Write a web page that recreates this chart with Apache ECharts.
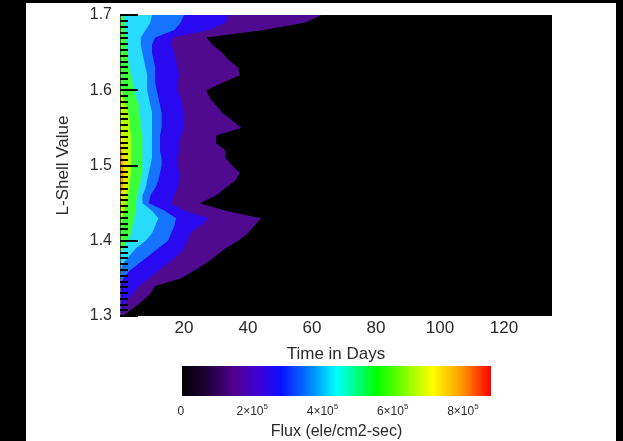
<!DOCTYPE html>
<html><head><meta charset="utf-8">
<script src="https://cdn.jsdelivr.net/npm/echarts@6/dist/echarts.min.js"></script>
<style>html,body{margin:0;padding:0;background:#fff}#c{width:623px;height:441px}</style>
</head><body><div id="c"></div>
<script>
// L-shell sample values (rows of the contour map)
const lShell = [1.30,1.31,1.32,1.33,1.34,1.35,1.36,1.37,1.38,1.39,1.40,1.41,1.42,1.43,1.44,1.45,1.46,1.47,1.48,1.49,1.50,
                1.51,1.52,1.53,1.54,1.55,1.56,1.57,1.58,1.59,1.60,1.61,1.62,1.63,1.64,1.65,1.66,1.67,1.68,1.69,1.70];
// right edge (days) of each filled contour level at every L-shell row
const purpleEdge = [1,4,7,9.5,11,19,23,27,30,33,37,40,42,44,33,25,30,33,36,37.5,35,33,33,30,30,38,35,32,30,28,27,32,37.5,37,34,32,29,27,45,58,63];
const blueEdge   = [0,1,2,4,6,9,12,15,18,20,21,22,25,28,20,16,17,18,18.5,18.5,18,18,18.5,18.5,19,20,20,20,19.5,19,18,18,18.5,18,17.5,17,16,16.5,28,33,34];
const lightBlueEdge = [0,0,0,0,0,1,3,6,9,12,15,16,17,17.5,14,9,9.5,11,12,12.5,13,13,12.5,12.5,12.5,13,13,13,12.5,12,11.5,11,11,11,10.5,10,10,11,17,19,20];
const cyanEdge   = [0,0,0,0,0,0,0,1,3,5,8,10,11,12,10,7,7,8,8.5,9,9.5,10,10,10,10,10,10,10,9.5,9,8.5,8.5,8.5,8,7.5,7,6.5,6.5,8,9.5,10];
const greenEdge  = [0,0,0,0,0,0,0,0,0,1,2.5,3.5,4,4.5,5,5,5.5,6,6.5,7,7,7,7,7,7,6.5,6.5,6,6,5,4.5,4,3.5,3,2.5,2.5,2,2,1.5,1.5,1];
const limeEdge   = [0,0,0,0,0,0,0,0,0,0,0,0,0,0.5,1.5,2,2.5,3,3,3.5,3.5,3.5,3.5,3.5,3.5,3,3,2.5,2,1,0.5,0,0,0,0,0,0,0,0,0,0];
const yellowEdge = [0,0,0,0,0,0,0,0,0,0,0,0,0,0,0,0.5,1,1.5,2,2,2,2,1.5,1.5,1,0.5,0,0,0,0,0,0,0,0,0,0,0,0,0,0,0];
const orangeEdge = [0,0,0,0,0,0,0,0,0,0,0,0,0,0,0,0,0.3,0.8,1,1,1,0.8,0.5,0.3,0,0,0,0,0,0,0,0,0,0,0,0,0,0,0,0,0];
const levelEdges = [purpleEdge, blueEdge, lightBlueEdge, cyanEdge, greenEdge, limeEdge, yellowEdge, orangeEdge];
const levelColors = ['#500a90','#2a08f0','#1473ff','#28dcff','#3cff3c','#b4ff00','#ffdc00','#ff9c00'];
// axis tick labels
const dayTicks = [20,40,60,80,100,120];
const lTicks = [1.3,1.4,1.5,1.6,1.7];
const fluxTicks = [0,200000,400000,600000,800000];
const fluxRange = [0, 880000];

const chart = echarts.init(document.getElementById('c'), null, {renderer:'canvas'});
const txt = '#2a2a2a';
const font = 'Liberation Sans, Arial, Helvetica, sans-serif';
const barStops = [
  {offset:0, color:'#000000'}, {offset:0.08, color:'#200038'}, {offset:0.17, color:'#500090'},
  {offset:0.25, color:'#4000d8'}, {offset:0.32, color:'#0a10ff'}, {offset:0.42, color:'#0088ff'},
  {offset:0.5, color:'#00ffff'}, {offset:0.63, color:'#00ff00'}, {offset:0.81, color:'#ffff00'},
  {offset:0.9, color:'#ffa000'}, {offset:1, color:'#ff0000'}
];
chart.setOption({
  backgroundColor:'#ffffff',
  animation:false,
  textStyle:{fontFamily:font},
  grid:[
    {left:120, top:15, width:432, height:301, show:true, backgroundColor:'#000', borderWidth:0},
    {left:182, top:366, width:309, height:32, show:false}
  ],
  xAxis:[
    {type:'value', gridIndex:0, min:0, max:135, interval:20,
     name:'Time in Days', nameLocation:'middle', nameGap:30,
     nameTextStyle:{color:txt, fontSize:17, fontFamily:font},
     axisLine:{show:false}, axisTick:{show:false}, splitLine:{show:false},
     axisLabel:{color:txt, fontSize:17, margin:4, fontFamily:font,
       formatter:v=>dayTicks.includes(v)?String(v):''}},
    {type:'value', gridIndex:1, min:fluxRange[0], max:fluxRange[1], interval:200000,
     name:'Flux (ele/cm2-sec)', nameLocation:'middle', nameGap:28,
     nameTextStyle:{color:txt, fontSize:16, fontFamily:font},
     axisLine:{show:false}, axisTick:{show:false}, splitLine:{show:false},
     axisLabel:{color:txt, fontSize:12, margin:7, fontFamily:font,
       formatter:v=>fluxTicks.includes(v)?(v===0?'{b|0}{s| }':'{b|'+(v/100000)+'×10}{s|5}'):'',
       rich:{b:{fontSize:12, color:txt, fontFamily:font},
             s:{fontSize:8, color:txt, fontFamily:font, padding:[0,0,9,0]}}}}
  ],
  yAxis:[
    {type:'value', gridIndex:0, min:1.3, max:1.7, interval:0.1, z:10,
     name:'L-Shell Value', nameLocation:'middle', nameGap:48,
     nameTextStyle:{color:txt, fontSize:17, fontFamily:font},
     axisLine:{show:true, lineStyle:{color:'#555', width:1}},
     axisTick:{show:true, inside:true, length:18, lineStyle:{color:'#000', width:2}},
     minorTick:{show:true, splitNumber:13, length:8, lineStyle:{color:'#000', width:2}},
     splitLine:{show:false},
     axisLabel:{color:txt, fontSize:16, margin:8, fontFamily:font,
       formatter:v=>{const t=lTicks.find(x=>Math.abs(x-v)<1e-6);return t!==undefined?t.toFixed(1):'';}}},
    {type:'value', gridIndex:1, min:0, max:1, show:false}
  ],
  series:[
    {type:'custom', xAxisIndex:0, yAxisIndex:0, clip:true, z:1,
     data: levelEdges.map(()=>[0,1.5]),
     renderItem:(params, api)=>{
       const edge = levelEdges[params.dataIndex];
       const pts = [api.coord([0, lShell[0]])];
       for (let i=0;i<lShell.length;i++) pts.push(api.coord([edge[i], lShell[i]]));
       pts.push(api.coord([0, lShell[lShell.length-1]]));
       return {type:'polygon', shape:{points:pts}, style:{fill:levelColors[params.dataIndex]}};
     }},
    {type:'custom', xAxisIndex:1, yAxisIndex:1, z:1,
     encode:{x:[0,1], y:2},
     data:[[fluxRange[0], fluxRange[1], 0.5]],
     renderItem:(params, api)=>{
       const p0 = api.coord([api.value(0), 0]);
       const p1 = api.coord([api.value(1), 1]);
       return {type:'rect', shape:{x:p0[0], y:p1[1], width:p1[0]-p0[0], height:p0[1]-p1[1]},
         style:{fill:new echarts.graphic.LinearGradient(0,0,1,0,barStops)}};
     }}
  ],
  graphic:[
    {type:'rect', left:0, top:0, shape:{width:26, height:441}, style:{fill:'#000'}, z:100},
    {type:'rect', left:0, top:0, shape:{width:623, height:3}, style:{fill:'#000'}, z:100},
    {type:'rect', left:616, top:0, shape:{width:7, height:441}, style:{fill:'#000'}, z:100}
  ]
});
</script></body></html>
